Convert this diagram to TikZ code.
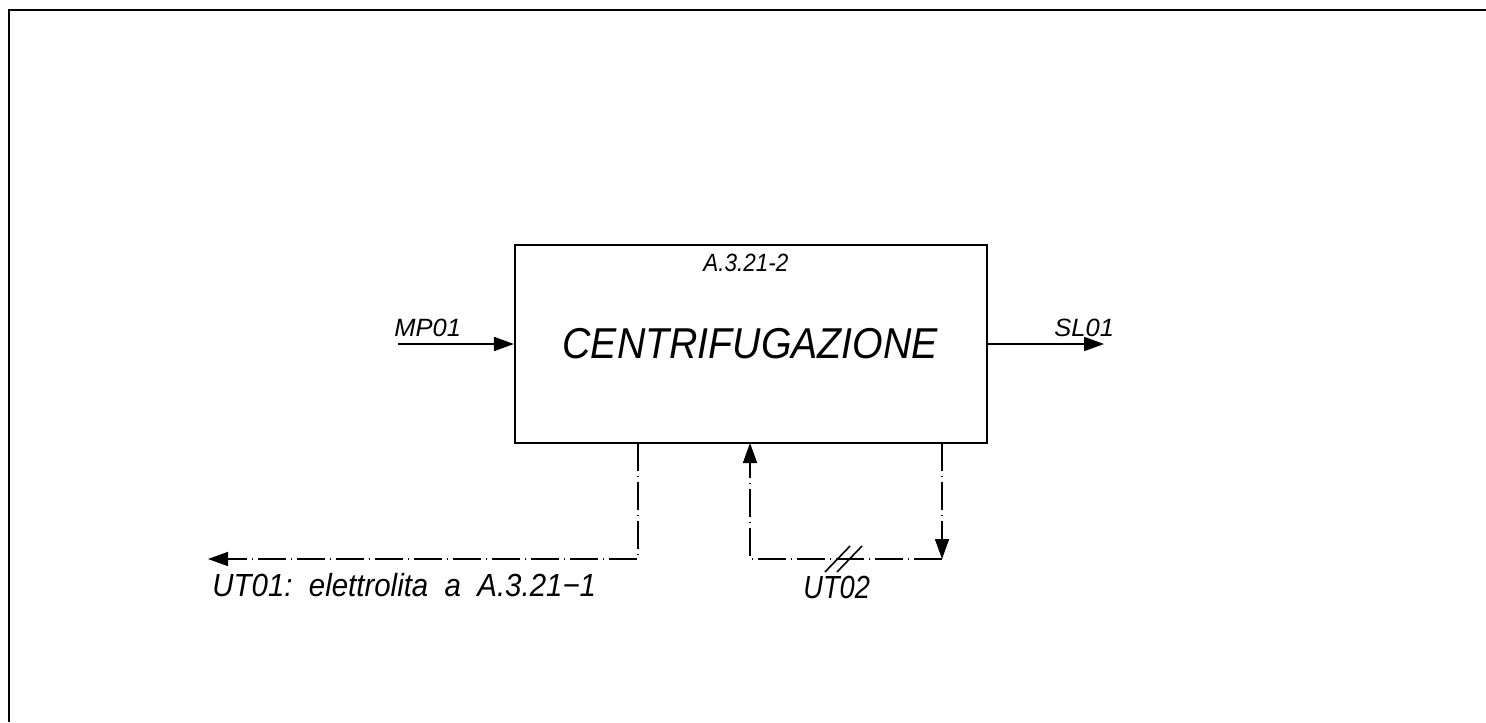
\documentclass[tikz,border=0pt]{standalone}
\usepackage{fontspec}
\usepackage{graphicx}
\setmainfont{Liberation Sans}
\usetikzlibrary{arrows.meta}
\tikzset{
  blockbox/.style={draw, line width=1.1pt, minimum width=236pt, minimum height=99pt, inner sep=0pt},
  flowline/.style={line width=0.9pt, -{Triangle[length=10pt,width=7pt]}},
  dashdot/.style={line width=0.8pt, dash pattern=on 14pt off 2.4pt on 0.7pt off 2.4pt},
  dashdotarrow/.style={dashdot, -{Triangle[length=10pt,width=7pt]}},
  lbl/.style={inner sep=0pt, anchor=base west, font=\itshape},
  framebox/.style={line width=1.2pt}
}
\begin{document}
\begin{tikzpicture}[x=0.5pt,y=-0.5pt]
\useasboundingbox (0,0) rectangle (1486,722);
% frame
\draw[framebox] (9,722) -- (9,10) -- (1486,10);
% main block
\node[blockbox] (box) at (751,344) {};
\node[lbl, font=\fontsize{21.6pt}{24pt}\selectfont\itshape] (title) at (562,358) {\scalebox{0.91}[1]{CENTRIFUGAZIONE}};
\node[lbl, font=\fontsize{12.5pt}{14pt}\selectfont\itshape] (code) at (703,271) {\scalebox{0.9}[1]{A.3.21-2}};
% input
\coordinate (mpin) at (398,344);
\draw[flowline] (mpin) -- (box.west);
\node[lbl, font=\fontsize{12.5pt}{14pt}\selectfont\itshape] (mp) at (394,336) {\scalebox{1.02}[1]{MP01}};
% output
\coordinate (slout) at (1104,344);
\draw[flowline] (box.east) -- (slout);
\node[lbl, font=\fontsize{12.5pt}{14pt}\selectfont\itshape] (sl) at (1054,336) {\scalebox{1.02}[1]{SL01}};
% UT01
\coordinate (ua) at (638,443);
\coordinate (ub) at (638,559);
\coordinate (uc) at (208,559);
\draw[dashdotarrow] (ua) -- (ub) -- (uc);
\node[lbl, font=\fontsize{16pt}{18pt}\selectfont\itshape] (ut1) at (212,596) {\scalebox{0.92}[1]{UT01:\ \ elettrolita\ \ a\ \ A.3.21−1}};
% UT02
\coordinate (va) at (942,443);
\coordinate (vb) at (942,559);
\coordinate (vc) at (750,559);
\coordinate (vd) at (750,443);
\draw[dashdotarrow] (va) -- (vb);
\draw[dashdotarrow] (vb) -- (vc) -- (vd);
\coordinate (s1a) at (825,572);
\coordinate (s1b) at (850,546);
\coordinate (s2a) at (837,572);
\coordinate (s2b) at (862,546);
\draw[line width=0.8pt] (s1a) -- (s1b);
\draw[line width=0.8pt] (s2a) -- (s2b);
\node[lbl, font=\fontsize{16pt}{18pt}\selectfont\itshape] (ut2) at (803,598) {\scalebox{0.85}[1]{UT02}};
\end{tikzpicture}
\end{document}
